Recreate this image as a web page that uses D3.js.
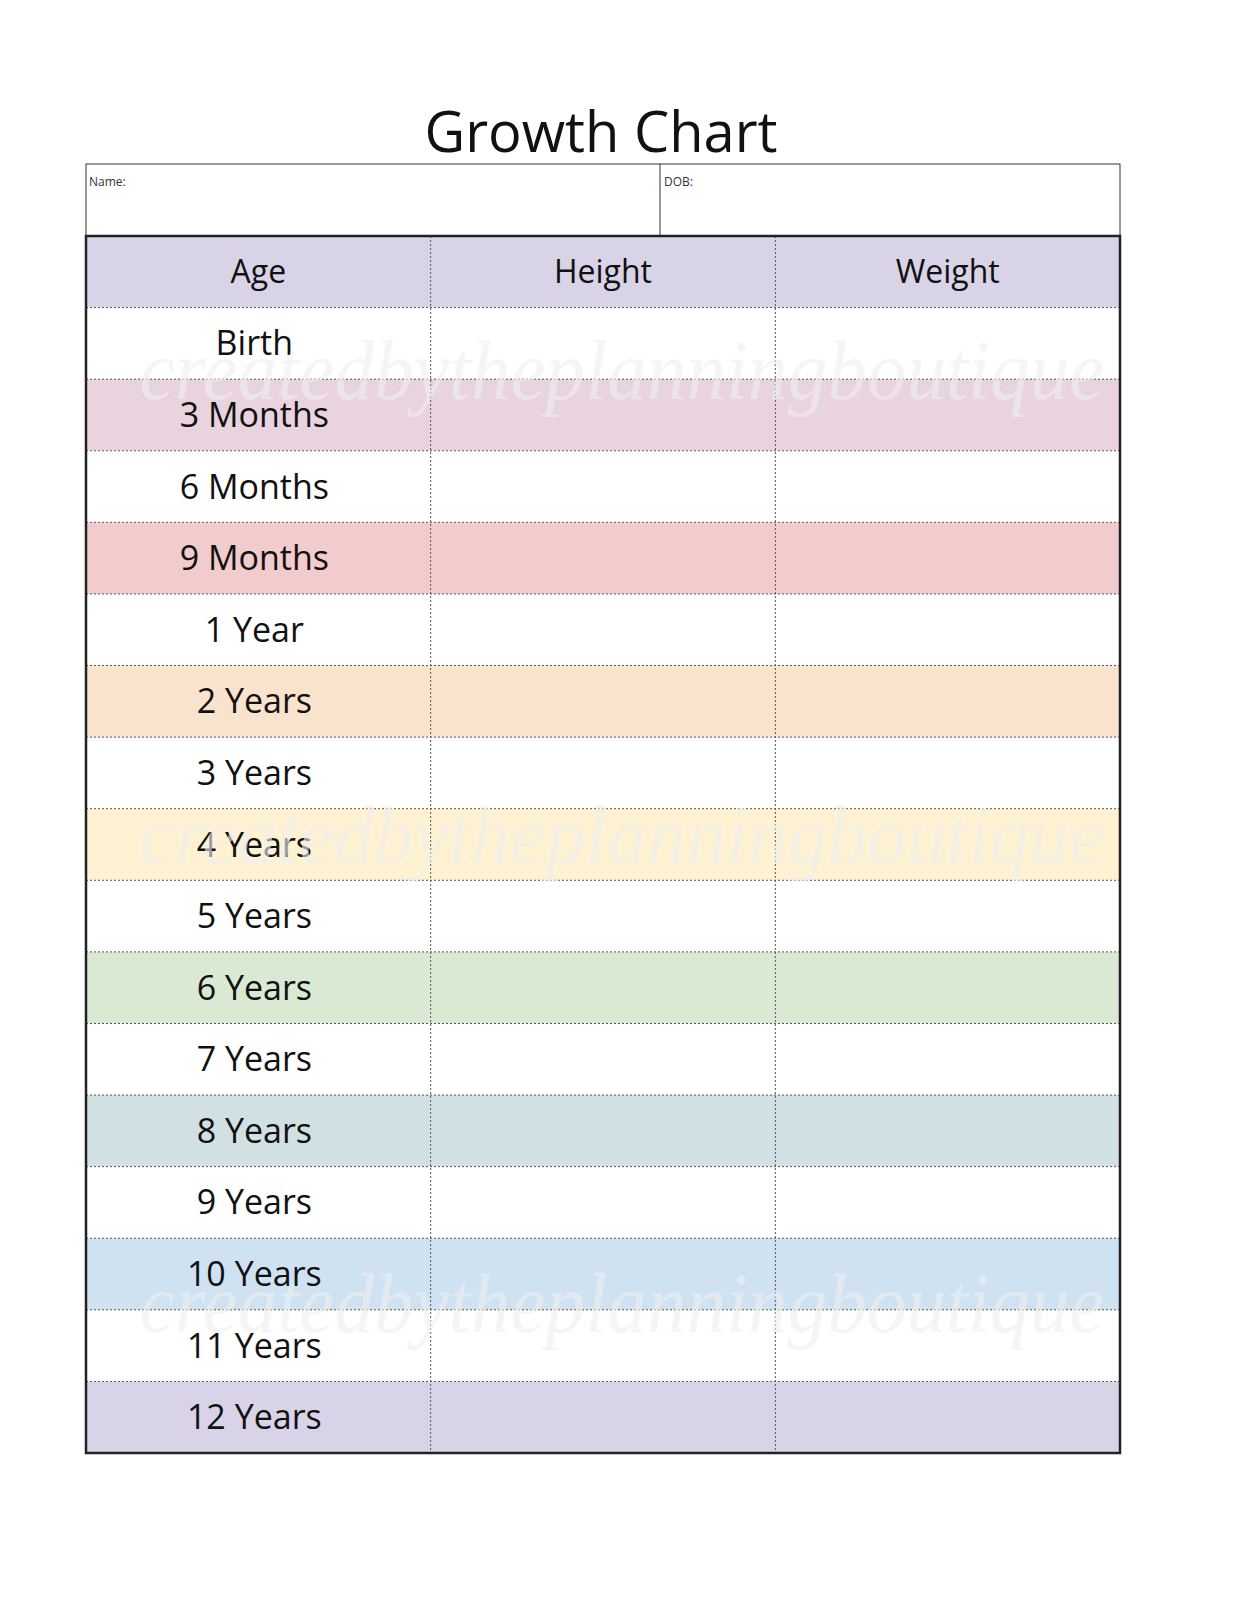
<!DOCTYPE html>
<html><head><meta charset="utf-8">
<script src="https://cdn.jsdelivr.net/npm/d3@7"></script>
<style>body{margin:0;background:#fff}</style></head>
<body><svg id="c" width="1238" height="1607"></svg>
<script>
const columns = ["Age", "Height", "Weight"];
const ages = ["Birth","3 Months","6 Months","9 Months","1 Year","2 Years","3 Years","4 Years","5 Years","6 Years","7 Years","8 Years","9 Years","10 Years","11 Years","12 Years"];
const rowColors = ["#ffffff","#e8d3df","#ffffff","#f2cccd","#ffffff","#fae3cd","#ffffff","#fef2d2","#ffffff","#d9e9d3","#ffffff","#d0e0e3","#ffffff","#cfe2f2","#ffffff","#d9d3e8"];
const headerColor = "#d9d3e8";
const watermarkRows = ["3 Months", "4 Years", "11 Years"];
const watermarkShift = [20, 55, 22];

const svg = d3.select("#c");
const font = "'Comic Sans MS','Open Sans',sans-serif";
const L = 86, R = 1120;
const x = d3.scaleBand().domain(columns).range([L, R]);
const y = d3.scaleBand().domain(["__header", ...ages]).range([236, 1453]);

svg.append("text").attr("x", 601).attr("y", 152).attr("text-anchor","middle")
  .attr("font-family", font).attr("font-size", 56).attr("fill","#111").text("Growth Chart");

svg.append("rect").attr("x",L).attr("y",164).attr("width",R-L).attr("height",72).attr("fill","none").attr("stroke","#333").attr("stroke-width",1);
svg.append("line").attr("x1",660).attr("x2",660).attr("y1",164).attr("y2",236).attr("stroke","#333");
svg.append("text").attr("x",89).attr("y",186).attr("font-size",12).attr("font-family",font).attr("fill","#333").text("Name:");
svg.append("text").attr("x",664).attr("y",186).attr("font-size",12).attr("font-family",font).attr("fill","#333").text("DOB:");

svg.append("rect").attr("x",L).attr("y",y("__header")).attr("width",R-L).attr("height",y.bandwidth()).attr("fill",headerColor);
svg.selectAll(".row").data(ages).join("rect").attr("x",L).attr("y",d=>y(d)).attr("width",R-L)
  .attr("height",y.bandwidth()).attr("fill",(d,i)=>rowColors[i]);

ages.forEach(a=>{
  svg.append("line").attr("x1",L).attr("x2",R).attr("y1",y(a)).attr("y2",y(a)).attr("stroke","#555").attr("stroke-width",1).attr("stroke-dasharray","2,2");
});
columns.slice(1).forEach(c=>{
  svg.append("line").attr("x1",x(c)).attr("x2",x(c)).attr("y1",236).attr("y2",1453).attr("stroke","#555").attr("stroke-dasharray","2,2");
});

svg.selectAll(".hd").data(columns).join("text").attr("x",d=>x(d)+x.bandwidth()/2).attr("y",y("__header")+y.bandwidth()/2+11)
  .attr("text-anchor","middle").attr("font-family",font).attr("font-size",32).attr("fill","#111").text(d=>d);
svg.selectAll(".ag").data(ages).join("text").attr("x",x("Age")+x.bandwidth()/2-4).attr("y",d=>y(d)+y.bandwidth()/2+12)
  .attr("text-anchor","middle").attr("font-family",font).attr("font-size",34).attr("fill","#111").text(d=>d);

watermarkRows.forEach((r,i)=>{
  svg.append("text").attr("x",622).attr("y",y(r)+watermarkShift[i]).attr("text-anchor","middle")
   .attr("font-family","'Liberation Serif',serif").attr("font-style","italic").attr("font-size",84)
   .attr("textLength",965).attr("lengthAdjust","spacingAndGlyphs")
   .attr("fill","#f0f0f0").attr("opacity",0.6).text("createdbytheplanningboutique");
});

svg.append("rect").attr("x",L).attr("y",236).attr("width",R-L).attr("height",1453-236).attr("fill","none").attr("stroke","#222").attr("stroke-width",2.5);
</script></body></html>
